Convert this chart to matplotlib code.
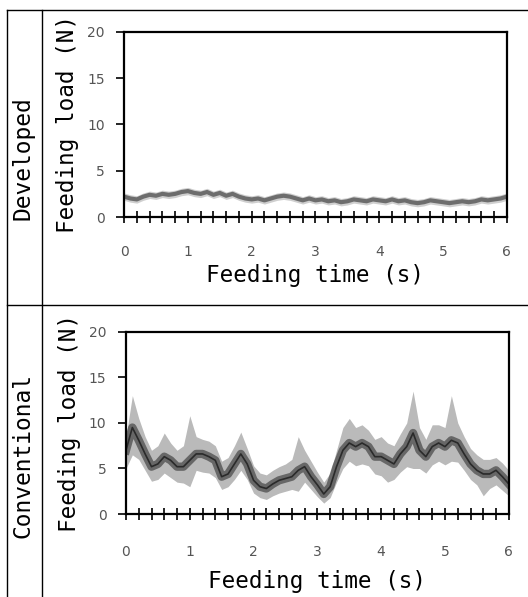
import numpy as np
import matplotlib.pyplot as plt
from matplotlib.lines import Line2D
from matplotlib.ticker import MultipleLocator

# feeding load, every 0.1 s
t = np.round(np.arange(0, 6.01, 0.1), 1)

dev_load = [2.2, 2.0, 1.9, 2.2, 2.4, 2.3, 2.5, 2.4, 2.5, 2.7,
            2.8, 2.6, 2.5, 2.7, 2.4, 2.6, 2.3, 2.5, 2.2, 2.0,
            1.9, 2.0, 1.8, 2.0, 2.2, 2.3, 2.2, 2.0, 1.8, 2.0,
            1.8, 1.9, 1.7, 1.8, 1.6, 1.7, 1.9, 1.8, 1.7, 1.9,
            1.8, 1.7, 1.9, 1.7, 1.8, 1.6, 1.5, 1.6, 1.8, 1.7,
            1.6, 1.5, 1.6, 1.7, 1.6, 1.7, 1.9, 1.8, 1.9, 2.0, 2.2]

conv_mean = [7.0, 9.5, 8.1, 6.6, 5.2, 5.5, 6.3, 5.9, 5.2, 5.2,
             5.9, 6.6, 6.6, 6.3, 5.9, 4.1, 4.4, 5.5, 6.6, 5.5,
             3.7, 3.0, 2.8, 3.3, 3.7, 3.9, 4.1, 4.8, 5.2, 4.1,
             3.2, 2.2, 3.0, 5.2, 7.0, 7.8, 7.4, 7.8, 7.4, 6.3,
             6.3, 5.9, 5.5, 6.6, 7.4, 8.9, 7.0, 6.3, 7.4, 7.8,
             7.4, 8.1, 7.8, 6.6, 5.5, 4.8, 4.4, 4.4, 4.8, 4.1, 3.3]

conv_hi = [8.5, 13.0, 10.5, 8.5, 7.0, 7.5, 8.9, 7.8, 7.0, 7.5,
           10.8, 8.5, 8.2, 8.0, 7.5, 5.8, 6.2, 7.5, 9.0, 7.2,
           5.3, 4.5, 4.3, 4.8, 5.2, 5.5, 6.0, 8.5, 7.0, 5.8,
           4.6, 3.5, 4.5, 7.0, 9.5, 10.5, 9.5, 9.8, 9.2, 8.2,
           8.5, 7.8, 7.5, 8.8, 10.0, 13.5, 9.5, 8.2, 9.8, 9.8,
           9.5, 13.0, 10.0, 8.5, 7.2, 6.5, 6.0, 6.0, 6.2, 5.6, 4.8]

conv_lo = [5.0, 6.5, 6.0, 4.8, 3.6, 3.8, 4.5, 4.0, 3.5, 3.4,
           3.0, 4.8, 4.6, 4.5, 4.0, 2.7, 3.0, 3.8, 4.8, 3.8,
           2.3, 1.8, 1.6, 2.0, 2.3, 2.5, 2.7, 2.5, 3.5, 2.7,
           1.9, 1.2, 1.8, 3.5, 5.0, 5.8, 5.3, 5.5, 5.3, 4.4,
           4.2, 3.5, 3.8, 4.6, 5.2, 5.0, 5.0, 4.5, 5.4, 5.8,
           5.4, 5.8, 5.7, 4.8, 3.8, 3.2, 2.0, 2.8, 3.2, 2.6, 2.0]

row_names = ['Developed', 'Conventional']

mono = 'DejaVu Sans Mono'
fig = plt.figure(figsize=(5.28, 5.97), dpi=100)

def style_axes(ax, tpad, xpad):
    ax.set_xlim(0, 6)
    ax.set_ylim(0, 20)
    ax.set_xticks(range(7))
    ax.set_yticks([0, 5, 10, 15, 20])
    ax.xaxis.set_minor_locator(MultipleLocator(0.2))
    ax.tick_params(axis='x', which='both', direction='inout', length=8,
                   width=1.2, pad=tpad, labelsize=10, labelcolor='#555555')
    ax.tick_params(axis='y', direction='out', length=6, width=1.2,
                   pad=8, labelsize=10, labelcolor='#555555')
    for s in ax.spines.values():
        s.set_linewidth(1.6)
    ax.set_xlabel('Feeding time (s)', fontsize=16.3, family=mono, labelpad=xpad)
    ax.set_ylabel('Feeding load (N)', fontsize=16.3, family=mono, labelpad=6)

# top panel: developed tool
ax1 = fig.add_axes([0.235, 0.6365, 0.725, 0.31])
d = np.array(dev_load)
ax1.fill_between(t, d - 0.4, d + 0.4, color='#888888', alpha=0.4, lw=0)
ax1.plot(t, d, color='#555555', lw=3, alpha=0.8)
style_axes(ax1, 16, 4)

# bottom panel: conventional tool
ax2 = fig.add_axes([0.2386, 0.139, 0.725, 0.305])
ax2.fill_between(t, conv_lo, conv_hi, color='#666666', alpha=0.45, lw=0)
ax2.plot(t, conv_mean, color='#444444', lw=6, alpha=0.7)
ax2.plot(t, conv_mean, color='#2a2a2a', lw=1.2)
style_axes(ax2, 18, 8)

# table frame around the panels
W, H = 528, 597
def hline(y, x0, x1):
    fig.add_artist(Line2D([x0 / W, x1 / W], [1 - y / H, 1 - y / H], color='black', lw=1))
def vline(x, y0, y1):
    fig.add_artist(Line2D([x / W, x / W], [1 - y0 / H, 1 - y1 / H], color='black', lw=1))

hline(10, 7, 528)
hline(305, 7, 528)
vline(7, 10, 597)
vline(42, 10, 597)

fig.text(23 / W, 1 - 158 / H, row_names[0], rotation=90, ha='center', va='center',
         fontsize=16.5, family=mono)
fig.text(23 / W, 1 - 455 / H, row_names[1], rotation=90, ha='center', va='center',
         fontsize=16.5, family=mono)

fig.savefig('out.png', dpi=100)
